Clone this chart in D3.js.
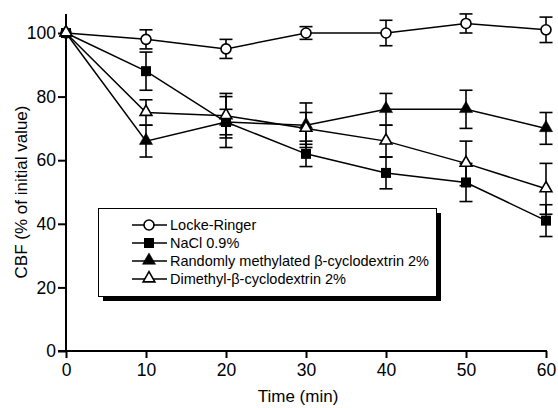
<!DOCTYPE html>
<html>
  <head>
    <script src="https://cdnjs.cloudflare.com/ajax/libs/d3/7.8.5/d3.min.js"></script>
<style>
  body { margin: 0; background: #fff; }
  text { font-family: "Liberation Sans", Arial, sans-serif; fill: #000; }
</style>
  </head>
  <body>
    <div id="vis"></div>
    <script type="text/javascript">

        const times = [0, 10, 20, 30, 40, 50, 60];
        const xTicks = [0, 10, 20, 30, 40, 50, 60];
        const yTicks = [0, 20, 40, 60, 80, 100];

        const lockeRinger = [100, 98, 95, 100, 100, 103, 101];
        const lockeRingerErr = [0, 3, 3, 2, 4, 3, 4];
        const naCl = [100, 88, 72, 62, 56, 53, 41];
        const naClErr = [0, 6, 4, 4, 5, 6, 5];
        const randMethyl = [100, 66, 72, 71, 76, 76, 70];
        const randMethylErr = [0, 5, 8, 7, 5, 6, 5];
        const dimethyl = [100, 75, 74, 70, 66, 59, 51];
        const dimethylErr = [0, 4, 7, 5, 5, 7, 8];

        const seriesNames = ["Locke-Ringer", "NaCl 0.9%", "Randomly methylated \u03b2-cyclodextrin 2%", "Dimethyl-\u03b2-cyclodextrin 2%"];
        const seriesSymbols = ["circle", "square", "triFilled", "triOpen"];

        const series = [
            {name: seriesNames[0], sym: seriesSymbols[0], v: lockeRinger, e: lockeRingerErr},
            {name: seriesNames[1], sym: seriesSymbols[1], v: naCl, e: naClErr},
            {name: seriesNames[2], sym: seriesSymbols[2], v: randMethyl, e: randMethylErr},
            {name: seriesNames[3], sym: seriesSymbols[3], v: dimethyl, e: dimethylErr}
        ];

        const width = 558;
        const height = 408;
        const svg = d3.select("#vis").append("svg")
            .attr("width", width)
            .attr("height", height);

        const x = d3.scaleLinear().domain([0, 60]).range([66, 546]);
        const y = d3.scaleLinear().domain([0, 100]).range([351, 33]);

        // axes
        svg.append("line").attr("x1", x(0)).attr("x2", x(0)).attr("y1", 14).attr("y2", y(0))
            .attr("stroke", "#000").attr("stroke-width", 2);
        svg.append("line").attr("x1", x(0) - 8).attr("x2", x(60) + 1).attr("y1", y(0)).attr("y2", y(0))
            .attr("stroke", "#000").attr("stroke-width", 2);

        const xAxis = d3.axisBottom(x).tickValues(xTicks).tickSize(7).tickPadding(6).tickFormat(d3.format("d"));
        const gx = svg.append("g").attr("transform", "translate(0," + y(0) + ")").call(xAxis);
        gx.select(".domain").remove();
        gx.selectAll("line").attr("stroke", "#000").attr("stroke-width", 2);
        gx.selectAll("text").attr("font-size", 17.5).attr("font-family", "Liberation Sans, Arial, sans-serif").attr("fill", "#000");

        const yAxis = d3.axisLeft(y).tickValues(yTicks).tickSize(8).tickPadding(2).tickFormat(d3.format("d"));
        const gy = svg.append("g").attr("transform", "translate(" + x(0) + ",0)").call(yAxis);
        gy.select(".domain").remove();
        gy.selectAll("line").attr("stroke", "#000").attr("stroke-width", 2);
        gy.selectAll("text").attr("font-size", 17.5).attr("font-family", "Liberation Sans, Arial, sans-serif").attr("fill", "#000");

        svg.append("text").attr("x", 298).attr("y", 402).attr("text-anchor", "middle")
            .attr("font-size", 17).text("Time (min)");
        svg.append("text").attr("transform", "translate(27,192) rotate(-90)").attr("text-anchor", "middle")
            .attr("font-size", 17).text("CBF (% of initial value)");

        // lines
        const line = d3.line().x((d, i) => x(times[i])).y(d => y(d));
        svg.append("g").selectAll("path").data(series).join("path")
            .attr("d", d => line(d.v))
            .attr("fill", "none").attr("stroke", "#000").attr("stroke-width", 1.5);

        // error bars
        const eb = svg.append("g").attr("stroke", "#000").attr("stroke-width", 1.6);
        series.forEach(s => {
            s.v.forEach((v, i) => {
                if (!s.e[i]) return;
                const cx = x(times[i]);
                eb.append("line").attr("x1", cx).attr("x2", cx).attr("y1", y(v + s.e[i])).attr("y2", y(v - s.e[i]));
                [v + s.e[i], v - s.e[i]].forEach(c => {
                    eb.append("line").attr("x1", cx - 6.5).attr("x2", cx + 6.5).attr("y1", y(c)).attr("y2", y(c));
                });
            });
        });

        function drawSymbol(g, sym, cx, cy) {
            if (sym === "circle") {
                g.append("circle").attr("cx", cx).attr("cy", cy).attr("r", 5)
                    .attr("fill", "#fff").attr("stroke", "#000").attr("stroke-width", 1.6);
            } else if (sym === "square") {
                g.append("rect").attr("x", cx - 5).attr("y", cy - 5).attr("width", 10).attr("height", 10)
                    .attr("fill", "#000");
            } else {
                const p = d3.symbol().type(d3.symbolTriangle).size(sym === "triFilled" ? 75 : 60);
                g.append("path").attr("d", p()).attr("transform", "translate(" + cx + "," + (cy - 0.5) + ")")
                    .attr("fill", sym === "triFilled" ? "#000" : "#fff")
                    .attr("stroke", "#000").attr("stroke-width", sym === "triFilled" ? 0.5 : 1.6);
            }
        }

        const marks = svg.append("g");
        series.forEach(s => {
            s.v.forEach((v, i) => drawSymbol(marks, s.sym, x(times[i]), y(v)));
        });

        // legend
        const lg = svg.append("g");
        lg.append("rect").attr("x", 103).attr("y", 213).attr("width", 338).attr("height", 88).attr("fill", "#000");
        lg.append("rect").attr("x", 98.5).attr("y", 208.5).attr("width", 338).attr("height", 88)
            .attr("fill", "#fff").attr("stroke", "#000").attr("stroke-width", 1);
        series.forEach((s, i) => {
            const ly = 225 + i * 18;
            lg.append("line").attr("x1", 132).attr("x2", 167).attr("y1", ly).attr("y2", ly)
                .attr("stroke", "#000").attr("stroke-width", 1.5);
            drawSymbol(lg, s.sym, 149, ly);
            lg.append("text").attr("x", 170).attr("y", ly + 5).attr("font-size", 14.5).text(s.name);
        });

    </script>
  </body>
</html>
